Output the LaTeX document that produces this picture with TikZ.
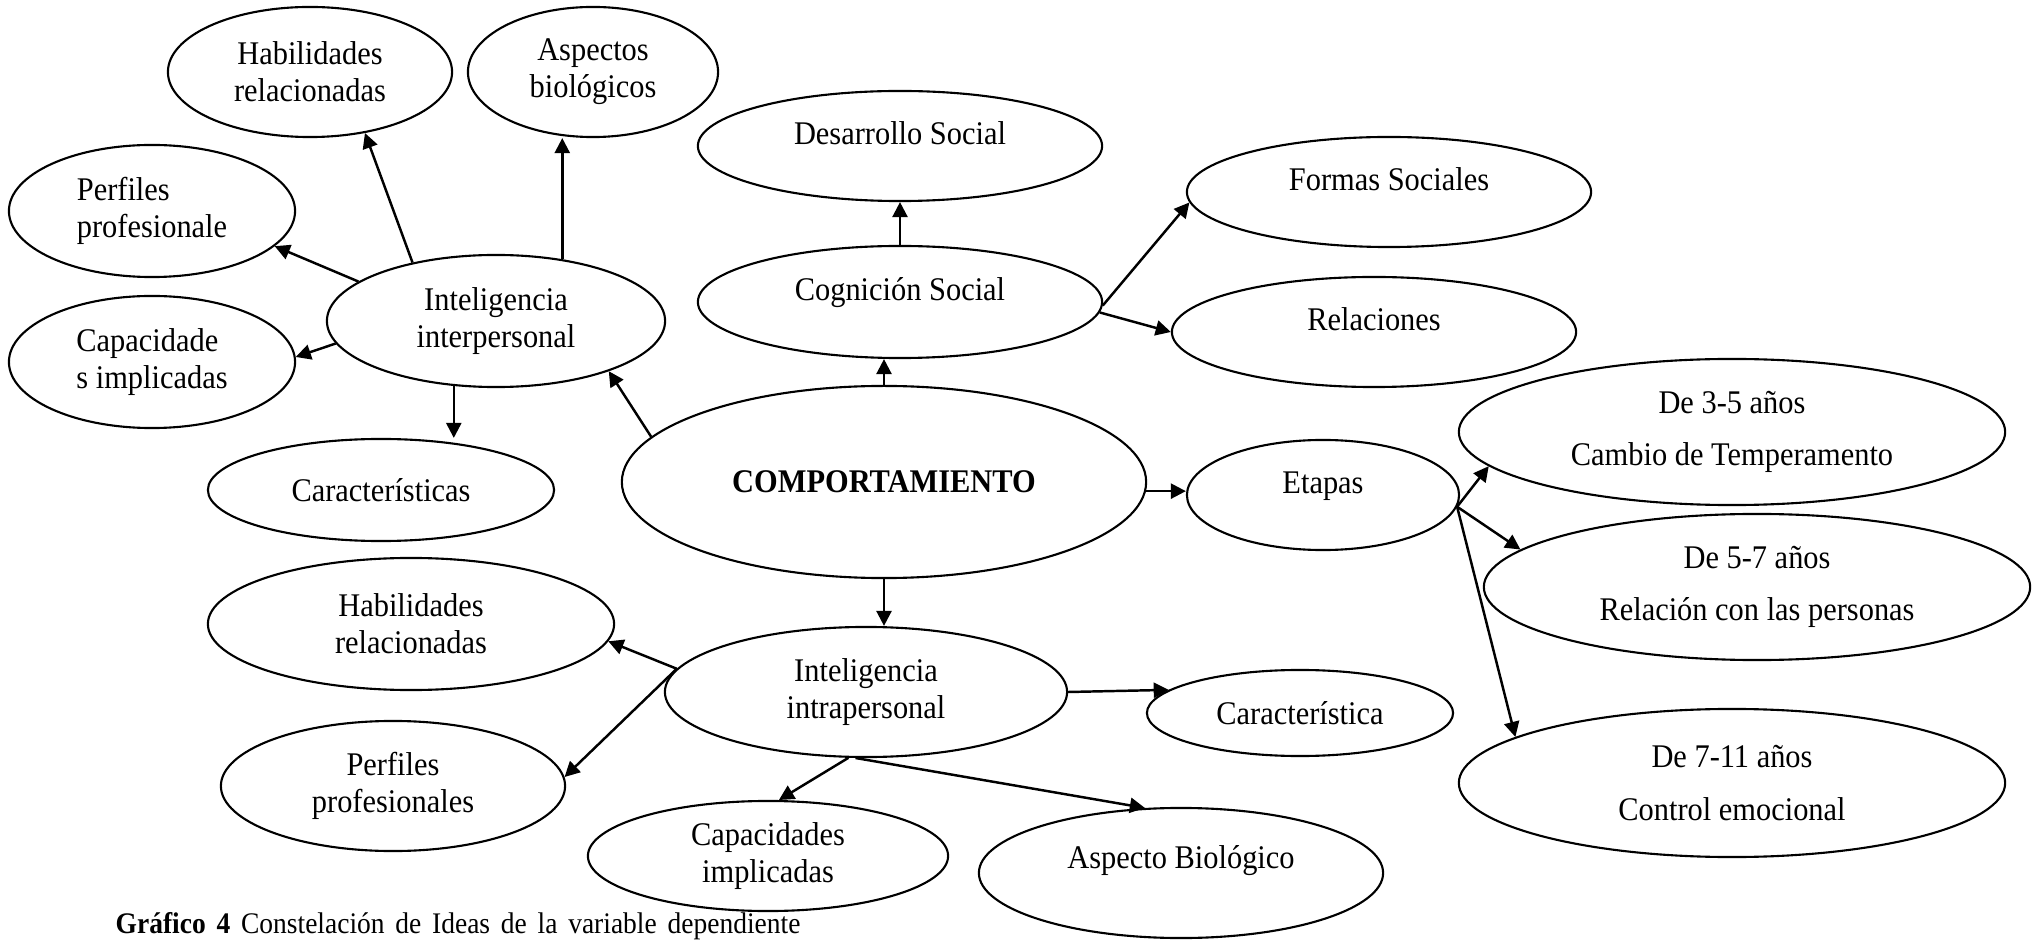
\documentclass[tikz,border=0pt]{standalone}
\usepackage{fontspec}
\setmainfont[FakeStretch=0.92]{Liberation Serif}
\usetikzlibrary{shapes.geometric,arrows.meta}

\begin{document}
\begin{tikzpicture}[x=0.01cm, y=-0.01cm,
  idea/.style={ellipse, draw, line width=0.6pt, inner sep=0pt, align=center,
    font=\fontsize{9.4}{10.5}\selectfont},
  etapa/.style={idea, font=\fontsize{9.4}{15}\selectfont},
  lifted/.style={text height=0.25cm, text depth=#1},
  lifted/.default=0.27cm,
  arr/.style={-{Triangle[length=4.3pt,width=4.3pt]}, line width=0.7pt}]
  \useasboundingbox (0,0) rectangle (2042,940);

  % centro
  \node[idea, minimum width=5.24cm, minimum height=1.92cm, font=\fontsize{9.4}{10.5}\selectfont\bfseries] (comp) at (884,482) {COMPORTAMIENTO};

  % inteligencia interpersonal
  \node[idea, minimum width=3.38cm, minimum height=1.32cm] (inter) at (496,321) {Inteligencia\\interpersonal};
  \node[idea, minimum width=2.84cm, minimum height=1.30cm] (habinter) at (310,72) {Habilidades\\relacionadas};
  \node[idea, minimum width=2.50cm, minimum height=1.30cm] (aspinter) at (593,72) {Aspectos\\biológicos};
  \node[idea, align=left, minimum width=2.86cm, minimum height=1.32cm] (perfinter) at (152,211) {Perfiles\\profesionale};
  \node[idea, align=left, minimum width=2.86cm, minimum height=1.32cm] (capinter) at (152,362) {Capacidade\\s implicadas};
  \node[idea, minimum width=3.46cm, minimum height=1.02cm] (caracts) at (381,490) {Características};

  % cognicion social
  \node[idea, lifted, minimum width=4.04cm, minimum height=1.12cm] (cognicion) at (900,302) {Cognición Social};
  \node[idea, lifted, minimum width=4.04cm, minimum height=1.10cm] (desarrollo) at (900,146) {Desarrollo Social};
  \node[idea, lifted, minimum width=4.04cm, minimum height=1.10cm] (formas) at (1389,192) {Formas Sociales};
  \node[idea, lifted, minimum width=4.04cm, minimum height=1.10cm] (relaciones) at (1374,332) {Relaciones};

  % etapas
  \node[idea, lifted, minimum width=2.72cm, minimum height=1.10cm] (etapas) at (1323,495) {Etapas};
  \node[etapa, minimum width=5.46cm, minimum height=1.46cm] (de35) at (1732,432) {De 3-5 años\\Cambio de Temperamento};
  \node[etapa, minimum width=5.46cm, minimum height=1.46cm] (de57) at (1757,587) {De 5-7 años\\Relación con las personas};
  \node[etapa, minimum width=5.46cm, minimum height=1.48cm] (de711) at (1732,783) {De 7-11 años\\Control emocional};

  % inteligencia intrapersonal
  \node[idea, minimum width=4.02cm, minimum height=1.30cm] (intra) at (866,692) {Inteligencia\\intrapersonal};
  \node[idea, minimum width=3.06cm, minimum height=0.86cm] (caract) at (1300,713) {Característica};
  \node[idea, minimum width=4.06cm, minimum height=1.32cm] (hablow) at (411,624) {Habilidades\\relacionadas};
  \node[idea, minimum width=3.44cm, minimum height=1.30cm] (perflow) at (393,786) {Perfiles\\profesionales};
  \node[idea, minimum width=3.60cm, minimum height=1.10cm] (capimp) at (768,856) {Capacidades\\implicadas};
  \node[idea, lifted=0.35cm, minimum width=4.04cm, minimum height=1.30cm] (aspbio) at (1181,873) {Aspecto Biológico};

  \node[anchor=base west, inner sep=0pt, font=\fontsize{8.5}{10}\selectfont] (caption) at (115,933) {\spaceskip 0.36em\relax\textbf{Gráfico 4} Constelación de Ideas de la variable dependiente};

  % flechas
  \draw[arr] (comp.169) -- (inter.-24);
  \draw[arr] (inter.145) -- (habinter.-48);
  \draw[arr] (inter.43) -- (inter.43 |- aspinter.south);
  \draw[arr] (inter.164) -- (perfinter.-16);
  \draw[arr] (inter.188) -- (capinter.2);
  \draw[arr] (inter.-123) -- (inter.-123 |- caracts.north);

  \draw[arr] (comp.north) -- (comp.north |- cognicion.south);
  \draw[arr] (cognicion.north) -- (cognicion.north |- desarrollo.south);
  \draw[arr] (cognicion.-1) -- (formas.183);
  \draw[arr] (cognicion.-3) -- (relaciones.west);

  \draw[arr] (comp.-2) -- (comp.-2 -| etapas.west);
  \draw[arr] (etapas.-5) -- (de35.188);
  \draw[arr] (etapas.-5) -- (de57.171);
  \draw[arr] (etapas.-5) -- (de711.168);

  \draw[arr] (comp.south) -- (comp.south |- intra.north);
  \draw[arr] (intra.east) -- (caract.170);
  \draw[arr] (intra.173) -- (hablow.-5);
  \draw[arr] (intra.173) -- (perflow.3);
  \draw[arr] (intra.-105) -- (capimp.79);
  \draw[arr] (intra.-99) -- (aspbio.119);

\end{tikzpicture}
\end{document}
